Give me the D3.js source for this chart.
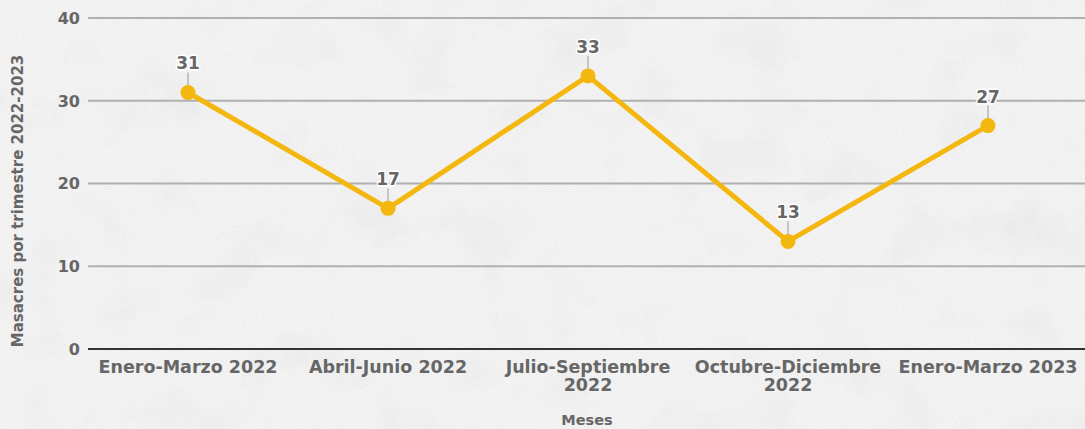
<!DOCTYPE html>
<html>
<head>
<meta charset="utf-8">
<script src="https://cdn.jsdelivr.net/npm/d3@7"></script>
<style>
  html, body { margin: 0; padding: 0; background: #f0f0f0; }
  svg { display: block; font-family: Verdana, "DejaVu Sans", sans-serif; }
</style>
</head>
<body>
<div id="chart"></div>
<script>
// Data
const quarters = ['Enero-Marzo 2022', 'Abril-Junio 2022', 'Julio-Septiembre 2022', 'Octubre-Diciembre 2022', 'Enero-Marzo 2023'];
const massacres = [31, 17, 33, 13, 27];
const yTicks = [0, 10, 20, 30, 40];

const width = 1085;
const height = 429;
const margin = { top: 18, right: -3, bottom: 80, left: 88 };

const svg = d3.select('#chart')
    .append('svg')
    .attr('width', width)
    .attr('height', height);

// Textured background
const defs = svg.append('defs');
const filt = defs.append('filter').attr('id', 'grain').attr('x', 0).attr('y', 0).attr('width', '100%').attr('height', '100%');
filt.append('feTurbulence').attr('type', 'fractalNoise').attr('baseFrequency', 1.1).attr('numOctaves', 2).attr('seed', 3);
filt.append('feColorMatrix').attr('type', 'matrix')
    .attr('values', '0 0 0 0 0.6  0 0 0 0 0.6  0 0 0 0 0.6  0 0 0 -1.6 0.9');
const filt2 = defs.append('filter').attr('id', 'blotch').attr('x', 0).attr('y', 0).attr('width', '100%').attr('height', '100%');
filt2.append('feTurbulence').attr('type', 'fractalNoise').attr('baseFrequency', 0.015).attr('numOctaves', 4).attr('seed', 8);
filt2.append('feColorMatrix').attr('type', 'matrix')
    .attr('values', '0 0 0 0 0.7  0 0 0 0 0.7  0 0 0 0 0.7  0 0 0 -2.4 1.15');

svg.append('rect').attr('width', width).attr('height', height).attr('fill', '#f3f3f3');
svg.append('rect').attr('width', width).attr('height', height).attr('filter', 'url(#blotch)').attr('opacity', 0.28);
svg.append('rect').attr('width', width).attr('height', height).attr('filter', 'url(#grain)').attr('opacity', 0.3);

const plotW = width - margin.left - margin.right;
const plotH = height - margin.top - margin.bottom;

const x = d3.scaleBand()
    .domain(quarters)
    .range([margin.left, margin.left + plotW]);

const y = d3.scaleLinear()
    .domain([0, 40])
    .range([margin.top + plotH, margin.top]);

// Grid lines
svg.append('g')
    .selectAll('line')
    .data(yTicks.filter(d => d > 0))
    .join('line')
    .attr('x1', margin.left)
    .attr('x2', width)
    .attr('y1', d => y(d))
    .attr('y2', d => y(d))
    .attr('stroke', '#b0b0b0')
    .attr('stroke-width', 2);

// Y axis labels
svg.append('g')
    .selectAll('text')
    .data(yTicks)
    .join('text')
    .attr('x', margin.left - 8)
    .attr('y', d => y(d))
    .attr('dy', '0.36em')
    .attr('text-anchor', 'end')
    .attr('fill', '#666')
    .style('font-weight', 'bold')
    .style('font-size', '16px')
    .text(d => d);

// Baseline
svg.append('line')
    .attr('x1', margin.left)
    .attr('x2', width)
    .attr('y1', y(0))
    .attr('y2', y(0))
    .attr('stroke', '#333')
    .attr('stroke-width', 2);

// X axis labels (wrapped)
const xLabels = svg.append('g')
    .selectAll('text')
    .data(quarters)
    .join('text')
    .attr('x', d => x(d) + x.bandwidth() / 2)
    .attr('y', y(0) + 24)
    .attr('text-anchor', 'middle')
    .attr('fill', '#666')
    .style('font-weight', 'bold')
    .style('font-size', '17.5px');

xLabels.each(function(d) {
    const t = d3.select(this);
    const parts = d.length > 18 ? [d.slice(0, d.lastIndexOf(' ')), d.slice(d.lastIndexOf(' ') + 1)] : [d];
    parts.forEach((p, i) => {
        t.append('tspan')
            .attr('x', x(d) + x.bandwidth() / 2)
            .attr('dy', i === 0 ? 0 : 18)
            .text(p);
    });
});

// Axis titles
svg.append('text')
    .attr('x', margin.left + plotW / 2 - 1)
    .attr('y', 425)
    .attr('text-anchor', 'middle')
    .attr('fill', '#666')
    .style('font-weight', 'bold')
    .style('font-size', '14.5px')
    .text('Meses');

svg.append('text')
    .attr('transform', `translate(23, 201) rotate(-90)`)
    .attr('text-anchor', 'middle')
    .attr('fill', '#666')
    .style('font-weight', 'bold')
    .style('font-size', '15px')
    .text('Masacres por trimestre 2022-2023');

// Line
const line = d3.line()
    .x((d, i) => x(quarters[i]) + x.bandwidth() / 2)
    .y(d => y(d));

svg.append('path')
    .datum(massacres)
    .attr('d', line)
    .attr('fill', 'none')
    .attr('stroke', '#f4b70f')
    .attr('stroke-width', 5)
    .attr('stroke-linejoin', 'round');

// Leader lines for labels
svg.append('g')
    .selectAll('line')
    .data(massacres)
    .join('line')
    .attr('x1', (d, i) => x(quarters[i]) + x.bandwidth() / 2)
    .attr('x2', (d, i) => x(quarters[i]) + x.bandwidth() / 2)
    .attr('y1', d => y(d) - 6)
    .attr('y2', d => y(d) - 20)
    .attr('stroke', '#999')
    .attr('stroke-width', 1);

// Points
svg.append('g')
    .selectAll('circle')
    .data(massacres)
    .join('circle')
    .attr('cx', (d, i) => x(quarters[i]) + x.bandwidth() / 2)
    .attr('cy', d => y(d))
    .attr('r', 7.5)
    .attr('fill', '#f4b70f');

// Value labels
svg.append('g')
    .selectAll('text')
    .data(massacres)
    .join('text')
    .attr('x', (d, i) => x(quarters[i]) + x.bandwidth() / 2)
    .attr('y', d => y(d) - 23)
    .attr('text-anchor', 'middle')
    .attr('fill', '#666')
    .attr('stroke', '#fff')
    .attr('stroke-width', 3)
    .attr('paint-order', 'stroke')
    .attr('stroke-linejoin', 'round')
    .style('font-weight', 'bold')
    .style('font-size', '17px')
    .text(d => d);
</script>
</body>
</html>
